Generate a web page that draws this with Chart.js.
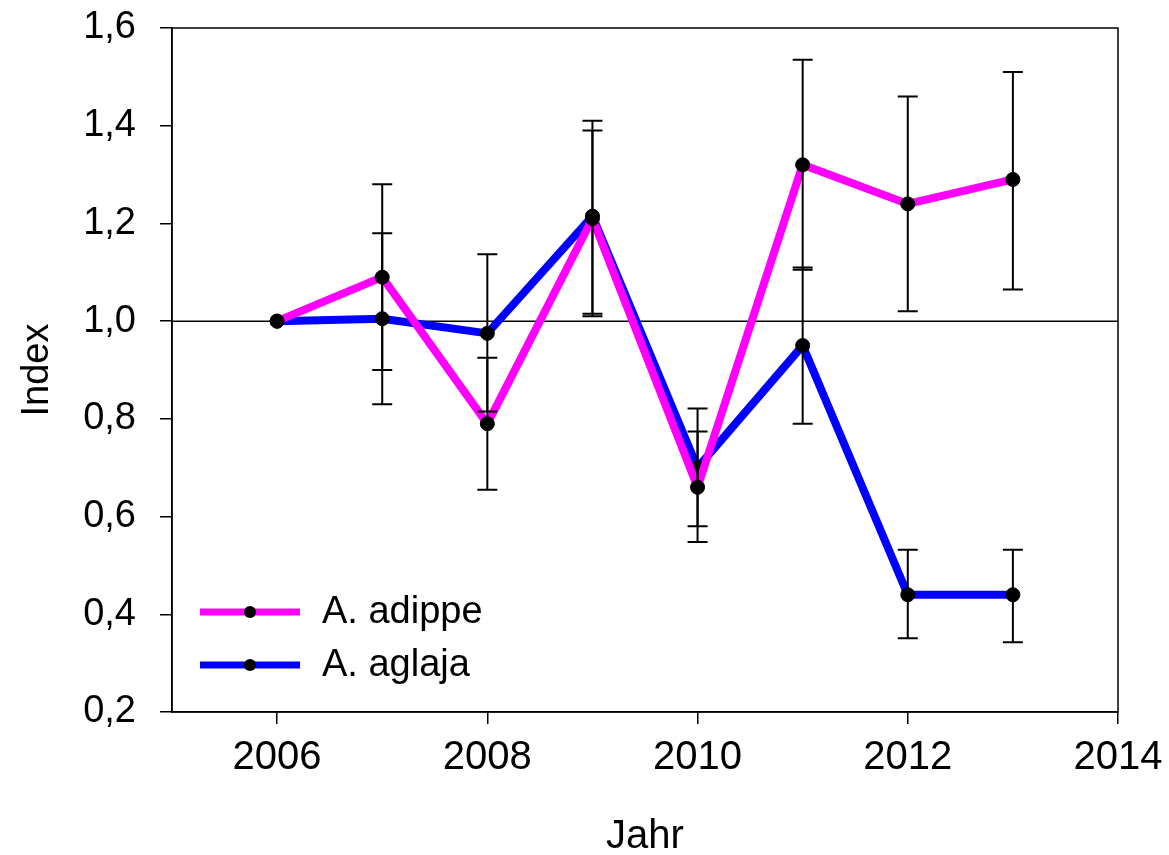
<!DOCTYPE html>
<html>
<head>
<meta charset="utf-8">
<script src="https://cdn.jsdelivr.net/npm/chart.js@4.4.1/dist/chart.umd.min.js"></script>
<style>
    html, body { margin: 0; padding: 0; background: #fff; }
    #wrap { width: 1169px; height: 855px; }
</style>
</head>
<body>
<div id="wrap"><canvas id="indexChart" width="1169" height="855"></canvas></div>
<script>
// --- data ---
const years = [2006, 2007, 2008, 2009, 2010, 2011, 2012, 2013];
const xTicks = [2006, 2008, 2010, 2012, 2014];
const yTicks = [0.2, 0.4, 0.6, 0.8, 1.0, 1.2, 1.4, 1.6];

const adippe     = [1.0, 1.09, 0.79, 1.21, 0.66, 1.32, 1.24, 1.29];
const adippeHigh = [null, 1.28, 0.925, 1.41, 0.774, 1.535, 1.46, 1.51];
const adippeLow  = [null, 0.90, 0.655, 1.01, 0.548, 1.105, 1.02, 1.065];

const aglaja     = [1.0, 1.005, 0.975, 1.215, 0.70, 0.95, 0.44, 0.44];
const aglajaHigh = [null, 1.18, 1.137, 1.39, 0.821, 1.11, 0.532, 0.532];
const aglajaLow  = [null, 0.83, 0.815, 1.015, 0.58, 0.79, 0.351, 0.343];

const seriesNames = ["A. adippe", "A. aglaja"];
const refLine = 1.0;

const FONT = "Arial, 'Liberation Sans', sans-serif";

function toPoints(vals) {
    return years.map((y, i) => ({ x: y, y: vals[i] }));
}

const errorBars = [
    { high: adippeHigh, low: adippeLow },
    { high: aglajaHigh, low: aglajaLow },
];

/* reference line, error bars, frame and legend */
const extras = {
    id: "extras",
    beforeDatasetsDraw(chart) {
        const { ctx, chartArea: a, scales: { y } } = chart;
        const yy = y.getPixelForValue(refLine);
        ctx.save();
        ctx.strokeStyle = "#000";
        ctx.lineWidth = 1.5;
        ctx.beginPath();
        ctx.moveTo(a.left, yy);
        ctx.lineTo(a.right, yy);
        ctx.stroke();
        ctx.restore();
    },
    afterDatasetsDraw(chart) {
        const { ctx, scales: { x, y } } = chart;
        ctx.save();
        ctx.strokeStyle = "#000";
        ctx.lineWidth = 2;
        errorBars.forEach((eb) => {
            years.forEach((yr, i) => {
                if (eb.high[i] == null) return;
                const px = x.getPixelForValue(yr);
                const top = y.getPixelForValue(eb.high[i]);
                const bot = y.getPixelForValue(eb.low[i]);
                ctx.beginPath();
                ctx.moveTo(px, top); ctx.lineTo(px, bot);
                ctx.moveTo(px - 10, top); ctx.lineTo(px + 10, top);
                ctx.moveTo(px - 10, bot); ctx.lineTo(px + 10, bot);
                ctx.stroke();
            });
        });
        ctx.restore();
    },
    afterDraw(chart) {
        const { ctx, chartArea: a } = chart;
        ctx.save();
        ctx.strokeStyle = "#000";
        ctx.lineWidth = 1.5;
        ctx.strokeRect(a.left, a.top, a.right - a.left, a.bottom - a.top);

        // legend inside the plot
        chart.data.datasets.forEach((ds, i) => {
            const ly = 612 + i * 53;
            ctx.strokeStyle = ds.borderColor;
            ctx.lineWidth = 7;
            ctx.beginPath();
            ctx.moveTo(200, ly);
            ctx.lineTo(300, ly);
            ctx.stroke();
            ctx.fillStyle = "#000";
            ctx.beginPath();
            ctx.arc(250, ly, 6, 0, Math.PI * 2);
            ctx.fill();
            ctx.font = "38px " + FONT;
            ctx.textBaseline = "middle";
            ctx.fillText(ds.label, 322, ly + 1);
        });
        ctx.restore();
    },
};

new Chart(document.getElementById("indexChart"), {
    type: "line",
    data: {
        datasets: [
            {
                label: seriesNames[0],
                data: toPoints(adippe),
                borderColor: "#ff00ff",
                borderWidth: 8,
                pointRadius: 7,
                pointBackgroundColor: "#000",
                pointBorderColor: "#000",
                pointBorderWidth: 1,
                tension: 0,
            },
            {
                label: seriesNames[1],
                data: toPoints(aglaja),
                borderColor: "#0000ff",
                borderWidth: 8,
                pointRadius: 7,
                pointBackgroundColor: "#000",
                pointBorderColor: "#000",
                pointBorderWidth: 1,
                tension: 0,
            },
        ],
    },
    options: {
        responsive: false,
        animation: false,
        devicePixelRatio: 1,
        layout: { padding: { left: 0, top: 28, right: 51, bottom: 0 } },
        plugins: {
            legend: { display: false },
            tooltip: { enabled: false },
        },
        scales: {
            x: {
                type: "linear",
                min: 2005,
                max: 2014,
                afterBuildTicks: (s) => { s.ticks = xTicks.map((v) => ({ value: v })); },
                afterFit: (s) => {
                    s.height = 143;
                    s.paddingLeft = 0;
                    s.paddingRight = 0;
                },
                grid: { drawOnChartArea: false, drawTicks: true, tickLength: 12, color: "#000", lineWidth: 1.5 },
                border: { display: true, color: "#000", width: 1.5 },
                ticks: {
                    color: "#000",
                    padding: 10,
                    maxRotation: 0,
                    font: { family: FONT, size: 40 },
                    callback: (v) => String(v),
                },
                title: {
                    display: true,
                    text: "Jahr",
                    color: "#000",
                    font: { family: FONT, size: 40, lineHeight: 1.2 },
                    padding: { top: 0, bottom: -6 },
                },
            },
            y: {
                type: "linear",
                min: 0.2,
                max: 1.6,
                afterBuildTicks: (s) => { s.ticks = yTicks.map((v) => ({ value: v })); },
                afterFit: (s) => {
                    s.width = 172;
                    s.paddingTop = 0;
                    s.paddingBottom = 0;
                },
                grid: { drawOnChartArea: false, drawTicks: true, tickLength: 12, color: "#000", lineWidth: 1.5 },
                border: { display: true, color: "#000", width: 1.5 },
                ticks: {
                    color: "#000",
                    padding: 24,
                    font: { family: FONT, size: 38 },
                    callback: (v) => v.toFixed(1).replace(".", ","),
                },
                title: {
                    display: true,
                    text: "Index",
                    color: "#000",
                    font: { family: FONT, size: 38, lineHeight: 1.2 },
                    padding: { top: 15, bottom: 0 },
                },
            },
        },
    },
    plugins: [extras],
});
</script>
</body>
</html>
